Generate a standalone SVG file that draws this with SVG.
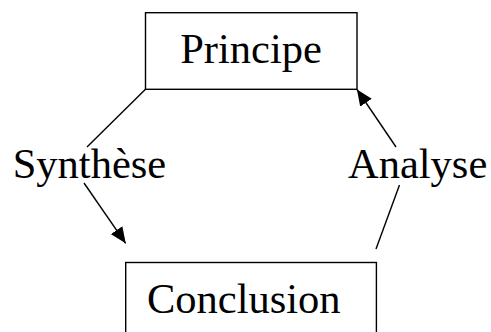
<svg xmlns="http://www.w3.org/2000/svg" width="491" height="332" viewBox="0 0 491 332">
<style>
.box{fill:#fff;stroke:#000;stroke-width:1.4}
.t{font-family:"Liberation Serif","Times New Roman",serif;font-size:42.5px;fill:#000}
.c{fill:none;stroke:#000;stroke-width:1.4}
</style>
<defs>
<marker id="ah" markerUnits="userSpaceOnUse" markerWidth="17" markerHeight="14" refX="16" refY="7" orient="auto">
<path d="M0,0 L16,7 L0,14 z" fill="#000"/>
</marker>
</defs>
<rect width="491" height="332" fill="#fff"/>
<g id="principe">
<rect class="box" x="145.5" y="12.7" width="211.5" height="76.6"/>
<text class="t" x="251" y="63" text-anchor="middle">Principe</text>
</g>
<g id="conclusion">
<rect class="box" x="125.7" y="262.5" width="250.7" height="80"/>
<text class="t" x="147" y="312.5">Conclusion</text>
</g>
<g id="connectors">
<line class="c" x1="145.5" y1="89.3" x2="87" y2="147"/>
<line class="c" x1="84" y1="183" x2="125.7" y2="243.3" marker-end="url(#ah)"/>
<line class="c" x1="376" y1="249" x2="399.5" y2="185"/>
<line class="c" x1="396" y1="147" x2="357" y2="89.5" marker-end="url(#ah)"/>
</g>
<g id="labels">
<text class="t" x="12.7" y="178">Synthèse</text>
<text class="t" x="348" y="178">Analyse</text>
</g>
</svg>
